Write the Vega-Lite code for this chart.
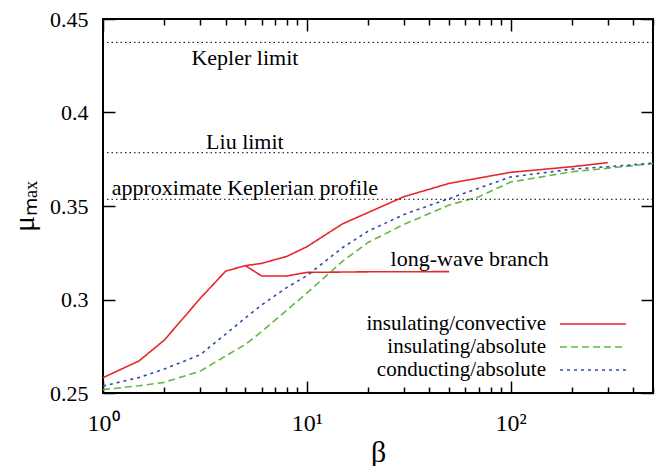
{
  "$schema": "https://vega.github.io/schema/vega-lite/v6.json",
  "width": 550,
  "height": 374,
  "autosize": {"type": "none"},
  "padding": {"left": 103, "top": 19, "right": 10, "bottom": 73},
  "background": "white",
  "config": {
    "view": {"stroke": "black", "strokeWidth": 2},
    "font": "Liberation Serif",
    "axis": {"grid": false, "domain": false, "labelFont": "Liberation Serif", "labelFontSize": 22, "labelColor": "black", "tickColor": "black", "tickWidth": 1.5, "titleFont": "Liberation Serif", "titleFontWeight": "normal", "titleColor": "black"},
    "legend": {"orient": "none", "legendX": 478, "legendY": 293, "padding": 0, "symbolType": "M-3,0H3", "symbolSize": 484, "symbolStrokeWidth": 1.6, "symbolFillColor": "transparent", "labelFont": "Liberation Serif", "labelFontSize": 21, "labelColor": "black", "labelAlign": "right", "labelOffset": -59, "labelLimit": 400, "rowPadding": 1, "title": null}
  },
  "datasets": {
    "curves": [
      {"series": "insulating/convective", "branch": "main", "beta": 1, "mu": 0.2582},
      {"series": "insulating/convective", "branch": "main", "beta": 1.5, "mu": 0.2671},
      {"series": "insulating/convective", "branch": "main", "beta": 2, "mu": 0.2783},
      {"series": "insulating/convective", "branch": "main", "beta": 3, "mu": 0.3006},
      {"series": "insulating/convective", "branch": "main", "beta": 4, "mu": 0.3152},
      {"series": "insulating/convective", "branch": "main", "beta": 5, "mu": 0.3181},
      {"series": "insulating/convective", "branch": "main", "beta": 6, "mu": 0.3193},
      {"series": "insulating/convective", "branch": "main", "beta": 8, "mu": 0.3231},
      {"series": "insulating/convective", "branch": "main", "beta": 10, "mu": 0.3282},
      {"series": "insulating/convective", "branch": "main", "beta": 15, "mu": 0.3405},
      {"series": "insulating/convective", "branch": "main", "beta": 30, "mu": 0.355},
      {"series": "insulating/convective", "branch": "main", "beta": 50, "mu": 0.3621},
      {"series": "insulating/convective", "branch": "main", "beta": 100, "mu": 0.368},
      {"series": "insulating/convective", "branch": "main", "beta": 200, "mu": 0.371},
      {"series": "insulating/convective", "branch": "main", "beta": 300, "mu": 0.3732},
      {"series": "insulating/convective", "branch": "long-wave", "beta": 5, "mu": 0.3181},
      {"series": "insulating/convective", "branch": "long-wave", "beta": 6, "mu": 0.3126},
      {"series": "insulating/convective", "branch": "long-wave", "beta": 8, "mu": 0.3126},
      {"series": "insulating/convective", "branch": "long-wave", "beta": 10, "mu": 0.3145},
      {"series": "insulating/convective", "branch": "long-wave", "beta": 20, "mu": 0.3148},
      {"series": "insulating/convective", "branch": "long-wave", "beta": 50, "mu": 0.3149},
      {"series": "insulating/absolute", "branch": "main", "beta": 1, "mu": 0.2518},
      {"series": "insulating/absolute", "branch": "main", "beta": 1.5, "mu": 0.2539},
      {"series": "insulating/absolute", "branch": "main", "beta": 2, "mu": 0.2557},
      {"series": "insulating/absolute", "branch": "main", "beta": 3, "mu": 0.2617},
      {"series": "insulating/absolute", "branch": "main", "beta": 4, "mu": 0.2698},
      {"series": "insulating/absolute", "branch": "main", "beta": 5, "mu": 0.276},
      {"series": "insulating/absolute", "branch": "main", "beta": 6, "mu": 0.2828},
      {"series": "insulating/absolute", "branch": "main", "beta": 8, "mu": 0.2944},
      {"series": "insulating/absolute", "branch": "main", "beta": 10, "mu": 0.3034},
      {"series": "insulating/absolute", "branch": "main", "beta": 15, "mu": 0.3205},
      {"series": "insulating/absolute", "branch": "main", "beta": 20, "mu": 0.3305},
      {"series": "insulating/absolute", "branch": "main", "beta": 30, "mu": 0.3402},
      {"series": "insulating/absolute", "branch": "main", "beta": 50, "mu": 0.3505},
      {"series": "insulating/absolute", "branch": "main", "beta": 70, "mu": 0.355},
      {"series": "insulating/absolute", "branch": "main", "beta": 100, "mu": 0.3628},
      {"series": "insulating/absolute", "branch": "main", "beta": 200, "mu": 0.3683},
      {"series": "insulating/absolute", "branch": "main", "beta": 300, "mu": 0.3702},
      {"series": "insulating/absolute", "branch": "main", "beta": 500, "mu": 0.3727},
      {"series": "conducting/absolute", "branch": "main", "beta": 1, "mu": 0.2537},
      {"series": "conducting/absolute", "branch": "main", "beta": 1.5, "mu": 0.2583},
      {"series": "conducting/absolute", "branch": "main", "beta": 2, "mu": 0.2628},
      {"series": "conducting/absolute", "branch": "main", "beta": 3, "mu": 0.2705},
      {"series": "conducting/absolute", "branch": "main", "beta": 4, "mu": 0.2815},
      {"series": "conducting/absolute", "branch": "main", "beta": 5, "mu": 0.2902},
      {"series": "conducting/absolute", "branch": "main", "beta": 6, "mu": 0.297},
      {"series": "conducting/absolute", "branch": "main", "beta": 8, "mu": 0.3065},
      {"series": "conducting/absolute", "branch": "main", "beta": 10, "mu": 0.3127},
      {"series": "conducting/absolute", "branch": "main", "beta": 15, "mu": 0.3278},
      {"series": "conducting/absolute", "branch": "main", "beta": 20, "mu": 0.3365},
      {"series": "conducting/absolute", "branch": "main", "beta": 30, "mu": 0.3455},
      {"series": "conducting/absolute", "branch": "main", "beta": 50, "mu": 0.354},
      {"series": "conducting/absolute", "branch": "main", "beta": 100, "mu": 0.3655},
      {"series": "conducting/absolute", "branch": "main", "beta": 200, "mu": 0.3697},
      {"series": "conducting/absolute", "branch": "main", "beta": 300, "mu": 0.371},
      {"series": "conducting/absolute", "branch": "main", "beta": 500, "mu": 0.3729}
    ],
    "limits": [
      {"name": "Kepler limit", "mu": 0.4375},
      {"name": "Liu limit", "mu": 0.3785},
      {"name": "approximate Keplerian profile", "mu": 0.3536}
    ],
    "labels": [
      {"text": "Kepler limit", "beta": 4.97, "mu": 0.4291},
      {"text": "Liu limit", "beta": 4.97, "mu": 0.3842},
      {"text": "approximate Keplerian profile", "beta": 4.97, "mu": 0.3596},
      {"text": "long-wave branch", "beta": 63, "mu": 0.3217}
    ]
  },
  "layer": [
    {
      "data": {"name": "curves"},
      "mark": {"type": "line", "strokeWidth": 1.6},
      "encoding": {
        "x": {"field": "beta", "type": "quantitative",
          "scale": {"type": "log", "domain": [1, 500], "nice": false},
          "axis": {"orient": "bottom", "title": "β", "titleFontSize": 30, "titlePadding": 2,
            "values": [1,2,3,4,5,6,7,8,9,10,20,30,40,50,60,70,80,90,100,200,300,400,500],
            "labelExpr": "datum.value == 1 ? '10⁰' : datum.value == 10 ? '10¹' : datum.value == 100 ? '10²' : ''",
            "labelFontSize": 24,
            "tickSize": {"condition": {"test": "datum.value == 1 || datum.value == 10 || datum.value == 100", "value": -12}, "value": -6},
            "labelPadding": 30, "labelFlush": false}},
        "y": {"field": "mu", "type": "quantitative",
          "scale": {"domain": [0.25, 0.45], "nice": false, "zero": false},
          "axis": {"orient": "left", "title": "μₘₐₓ", "titleFontSize": 30, "titlePadding": 10,
            "values": [0.25, 0.3, 0.35, 0.4, 0.45], "format": ".2~f", "tickSize": -12, "labelPadding": 27}},
        "color": {"field": "series", "type": "nominal",
          "scale": {"domain": ["insulating/convective", "insulating/absolute", "conducting/absolute"], "range": ["#e8262b", "#62b845", "#2d4ea6"]}},
        "strokeDash": {"field": "series", "type": "nominal",
          "scale": {"domain": ["insulating/convective", "insulating/absolute", "conducting/absolute"], "range": [[1, 0], [7, 4], [3, 4]]}},
        "detail": {"field": "branch", "type": "nominal"},
        "order": {"field": "beta", "type": "quantitative"}
      }
    },
    {
      "data": {"name": "limits"},
      "mark": {"type": "rule", "color": "black", "strokeWidth": 1, "strokeDash": [1.5, 3]},
      "encoding": {
        "y": {"field": "mu", "type": "quantitative",
          "axis": {"orient": "right", "title": null, "labels": false,
            "values": [0.25, 0.3, 0.35, 0.4, 0.45], "tickSize": -12}}
      }
    },
    {
      "data": {"name": "labels"},
      "mark": {"type": "text", "fontSize": 22, "font": "Liberation Serif", "color": "black", "align": "center", "baseline": "middle"},
      "encoding": {
        "x": {"field": "beta", "type": "quantitative",
          "axis": {"orient": "top", "title": null, "labels": false,
            "values": [1,2,3,4,5,6,7,8,9,10,20,30,40,50,60,70,80,90,100,200,300,400,500],
            "tickSize": {"condition": {"test": "datum.value == 1 || datum.value == 10 || datum.value == 100", "value": -12}, "value": -6}}},
        "y": {"field": "mu", "type": "quantitative", "axis": null},
        "text": {"field": "text"}
      }
    }
  ],
  "resolve": {"axis": {"x": "independent", "y": "independent"}}
}
